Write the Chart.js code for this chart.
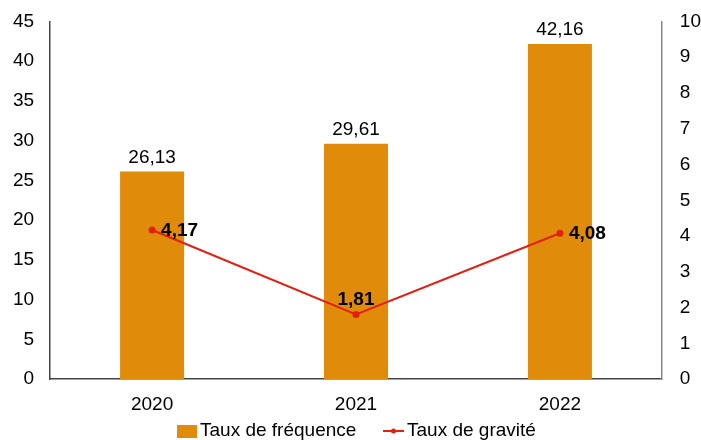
<!DOCTYPE html>
<html><head><meta charset="utf-8">
<script src="https://cdn.jsdelivr.net/npm/chart.js@4.4.1/dist/chart.umd.min.js"></script>
<style>html,body{margin:0;padding:0;background:#fff}#wrap{width:701px;height:440px}</style>
</head><body><div id="wrap"><canvas id="c" width="701" height="440"></canvas></div>
<script>
const categories = ['2020', '2021', '2022'];
const frequence = [26.13, 29.61, 42.16];
const gravite = [4.17, 1.81, 4.08];
const leftTicks = [0, 5, 10, 15, 20, 25, 30, 35, 40, 45];
const rightTicks = [0, 1, 2, 3, 4, 5, 6, 7, 8, 9, 10];
const seriesNames = ['Taux de fréquence', 'Taux de gravité'];

const BAR = '#E08C0A', LINE = '#E3200F';
const FONT = "'Liberation Sans', Arial, sans-serif";
const fmt = v => v.toFixed(2).replace('.', ',');

const labelPlugin = {
  id: 'vals',
  afterDatasetsDraw(chart){
    const ctx = chart.ctx;
    ctx.save();
    ctx.fillStyle = '#000';
    const mb = chart.getDatasetMeta(0);
    ctx.font = `19px ${FONT}`; ctx.textAlign='center'; ctx.textBaseline='middle';
    mb.data.forEach((el,i)=>{ ctx.fillText(fmt(frequence[i]), el.x, el.y-14); });
    const ml = chart.getDatasetMeta(1);
    ctx.font = `bold 19px ${FONT}`;
    const pos = ['right','top','right'];
    ml.data.forEach((el,i)=>{
      if(pos[i]==='right'){ ctx.textAlign='left'; ctx.fillText(fmt(gravite[i]), el.x+9, el.y+1); }
      else { ctx.textAlign='center'; ctx.fillText(fmt(gravite[i]), el.x, el.y-15); }
    });
    ctx.restore();
  }
};

const legendPlugin = {
  id: 'manualLegend',
  afterDraw(chart){
    const ctx = chart.ctx;
    const ds = chart.data.datasets;
    const y = 431;
    ctx.save();
    ctx.font = `19px ${FONT}`; ctx.textBaseline='middle'; ctx.textAlign='left'; ctx.fillStyle='#000';
    ctx.fillStyle = ds[0].backgroundColor;
    ctx.fillRect(177, y-6, 20, 13);
    ctx.fillStyle = '#000';
    ctx.fillText(ds[0].label, 200, y);
    ctx.strokeStyle = ds[1].borderColor; ctx.lineWidth = 2;
    ctx.beginPath(); ctx.moveTo(383, y); ctx.lineTo(404, y); ctx.stroke();
    ctx.fillStyle = ds[1].borderColor;
    ctx.beginPath(); ctx.arc(393.5, y, 2.5, 0, Math.PI*2); ctx.fill();
    ctx.fillStyle = '#000';
    ctx.fillText(ds[1].label, 407, y);
    ctx.restore();
  }
};

new Chart(document.getElementById('c'), {
  data: {
    labels: categories,
    datasets: [
      { type:'bar', label:seriesNames[0], data: frequence, backgroundColor: BAR, yAxisID:'y', barPercentage:0.314, categoryPercentage:1, order:2 },
      { type:'line', label:seriesNames[1], data: gravite, borderColor: LINE, backgroundColor: LINE, borderWidth:2, pointRadius:2.5, pointHoverRadius:2.5, yAxisID:'y1', tension:0, order:1 }
    ]
  },
  options: {
    responsive:false, animation:false, devicePixelRatio:1,
    layout:{ padding:{ top:16, right:-10, left:5, bottom:10 } },
    plugins:{ legend:{ display:false }, tooltip:{ enabled:false } },
    scales:{
      x:{ grid:{ display:false, drawTicks:false }, border:{ color:'#444', width:1.5 }, ticks:{ color:'#000', font:{ size:19, family:FONT }, padding:14 } },
      y:{ position:'left', min:0, max:45, afterBuildTicks(a){ a.ticks = leftTicks.map(v=>({value:v})); },
        grid:{ display:false }, border:{ color:'#444', width:1.5 },
        ticks:{ color:'#000', font:{ size:19, family:FONT }, padding:8 } },
      y1:{ position:'right', min:0, max:10, afterBuildTicks(a){ a.ticks = rightTicks.map(v=>({value:v})); },
        grid:{ display:false }, border:{ color:'#888', width:1.5 },
        ticks:{ color:'#000', font:{ size:19, family:FONT }, padding:10 } }
    }
  },
  plugins:[labelPlugin, legendPlugin]
});
</script></body></html>
